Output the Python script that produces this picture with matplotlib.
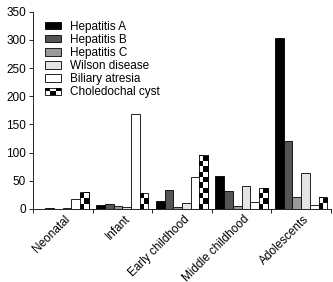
import numpy as np
import matplotlib
matplotlib.use("Agg")
import matplotlib.pyplot as plt
import matplotlib.transforms as mtransforms
from matplotlib.patches import Rectangle
from matplotlib.legend_handler import HandlerBase

categories = ["Neonatal", "Infant", "Early childhood", "Middle childhood", "Adolescents"]
series_names = ["Hepatitis A", "Hepatitis B", "Hepatitis C", "Wilson disease",
                "Biliary atresia", "Choledochal cyst"]
hep_a = [0.5, 7, 15, 58, 303]
hep_b = [1, 8, 34, 31, 120]
hep_c = [0.5, 5, 4, 5, 22]
wilson = [1, 4, 11, 40, 64]
biliary = [17, 168, 56, 12, 7]
choledochal = [30, 28, 95, 38, 22]
yticks = [0, 50, 100, 150, 200, 250, 300, 350]

series = [hep_a, hep_b, hep_c, wilson, biliary, choledochal]
colors = ["#000000", "#555555", "#9a9a9a", "#e4e4e4", "#ffffff", None]

plt.rcParams['font.family'] = ['Liberation Sans', 'DejaVu Sans']
FS = 8.5
fig = plt.figure(figsize=(3.33, 2.82), dpi=100)
ax = fig.add_axes([0.099, 0.259, 0.895, 0.6995])

n = len(series)
bw = 0.146
x = np.arange(len(categories))
cell_y = 9.4
for i, (vals, name, col) in enumerate(zip(series, series_names, colors)):
    offs = (i - (n - 1) / 2) * bw
    if col is not None:
        ax.bar(x + offs, vals, bw, color=col, edgecolor="black", linewidth=0.6,
               label=name, zorder=2)
    else:
        bars = ax.bar(x + offs, vals, bw, color="white", edgecolor="black",
                      linewidth=0.6, zorder=2)
        for b in bars:
            x0 = b.get_x(); w = b.get_width(); h = b.get_height()
            rows = int(np.ceil(h / cell_y))
            img = (np.indices((rows, 2)).sum(axis=0) % 2).astype(float)
            im = ax.imshow(img[::-1], cmap="gray", vmin=0, vmax=1, aspect="auto",
                           extent=(x0, x0 + w, 0, rows * cell_y),
                           interpolation="nearest", zorder=2.5)
            im.set_clip_path(b)
            ax.bar(x0 + w / 2, h, w, color="none", edgecolor="black",
                   linewidth=0.6, zorder=3)


class CheckerHandler(HandlerBase):
    def create_artists(self, legend, orig_handle, xdescent, ydescent, width,
                       height, fontsize, trans):
        arts = []
        nc, nr = 3, 2
        cw, ch = width / nc, height / nr
        for r in range(nr):
            for c in range(nc):
                fc = "black" if (r + c) % 2 == 1 else "white"
                arts.append(Rectangle((-xdescent + c * cw, -ydescent + r * ch), cw, ch,
                                      facecolor=fc, edgecolor="none", transform=trans))
        arts.append(Rectangle((-xdescent, -ydescent), width, height, facecolor="none",
                              edgecolor="black", linewidth=0.6, transform=trans))
        return arts


handles, labels = ax.get_legend_handles_labels()
chk = Rectangle((0, 0), 1, 1)
handles.append(chk); labels.append(series_names[-1])
ax.legend(handles, labels, loc="upper left", bbox_to_anchor=(0.04, 0.955),
          frameon=False, fontsize=FS, labelspacing=0.1, handlelength=1.35,
          handleheight=0.6, handletextpad=0.75, borderaxespad=0, borderpad=0,
          handler_map={chk: CheckerHandler()})

ax.set_xlim(-0.5, len(categories) - 0.5)
ax.set_ylim(0, 350)
ax.set_yticks(yticks)
ax.tick_params(axis="y", labelsize=FS, length=3, width=0.6, pad=2)
ax.set_xticks(np.arange(len(categories) + 1) - 0.5)
ax.set_xticklabels([])
ax.tick_params(axis="x", length=3, width=0.6)
ax.set_xticks(x, minor=True)
ax.set_xticklabels(categories, minor=True, rotation=45, ha="right", va="center",
                   rotation_mode="anchor", fontsize=FS)
ax.tick_params(axis="x", which="minor", length=0, pad=6)
offset = mtransforms.ScaledTranslation(6 / 100, 0, fig.dpi_scale_trans)
for lab in ax.get_xticklabels(minor=True):
    lab.set_transform(lab.get_transform() + offset)
for s in ["top", "right"]:
    ax.spines[s].set_visible(False)
for s in ["left", "bottom"]:
    ax.spines[s].set_linewidth(0.6)

fig.savefig("out.png", dpi=100)
